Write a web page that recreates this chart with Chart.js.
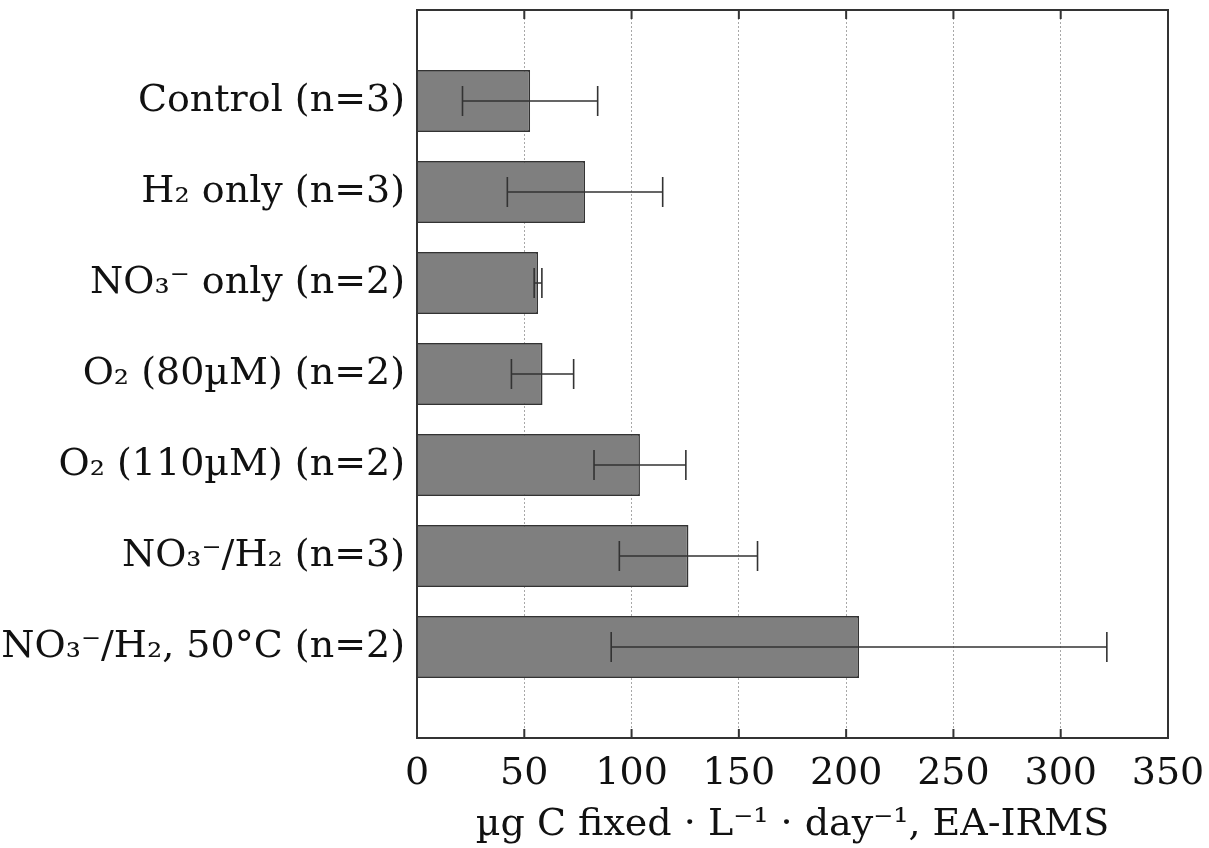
<!DOCTYPE html>
<html>
<head>
<meta charset="utf-8">
<script src="https://cdn.jsdelivr.net/npm/chart.js@4"></script>
<style>
html,body{margin:0;padding:0;background:#fff;}
#wrap{width:1209px;height:848px;}
</style>
</head>
<body>
<div id="wrap"><canvas id="c" width="1209" height="848"></canvas></div>
<script>
const categories = [
  'Control (n=3)',
  'H\u2082 only (n=3)',
  'NO\u2083\u207B only (n=2)',
  'O\u2082 (80\u00B5M) (n=2)',
  'O\u2082 (110\u00B5M) (n=2)',
  'NO\u2083\u207B/H\u2082 (n=3)',
  'NO\u2083\u207B/H\u2082, 50\u00B0C (n=2)'
];
const means  = [52.7, 78.3, 56.4, 58.5, 103.9, 126.5, 206];
const errors = [31.5, 36.2, 1.8, 14.5, 21.4, 32.2, 115.5];
const xTicks = [0, 50, 100, 150, 200, 250, 300, 350];
const xTitle = '\u00B5g C fixed \u00B7 L\u207B\u00B9 \u00B7 day\u207B\u00B9, EA-IRMS';

const FONT = "'DejaVu Serif', serif";
const labels = [''].concat(categories, ['']);
const data = [null].concat(means, [null]);

const frame = {
  id: 'frame',
  afterDatasetsDraw(chart) {
    const ctx = chart.ctx, a = chart.chartArea;
    const xs = chart.scales.x, ys = chart.scales.y;
    ctx.save();
    ctx.strokeStyle = '#333';
    ctx.lineWidth = 1.6;
    means.forEach((m, i) => {
      const y = ys.getPixelForValue(i + 1);
      const x1 = xs.getPixelForValue(m - errors[i]);
      const x2 = xs.getPixelForValue(m + errors[i]);
      ctx.beginPath();
      ctx.moveTo(x1, y); ctx.lineTo(x2, y);
      ctx.moveTo(x1, y - 15); ctx.lineTo(x1, y + 15);
      ctx.moveTo(x2, y - 15); ctx.lineTo(x2, y + 15);
      ctx.stroke();
    });
    ctx.lineWidth = 2;
    xTicks.forEach(v => {
      const x = xs.getPixelForValue(v);
      ctx.beginPath();
      ctx.moveTo(x, a.top); ctx.lineTo(x, a.top + 9);
      ctx.moveTo(x, a.bottom); ctx.lineTo(x, a.bottom - 9);
      ctx.stroke();
    });
    ctx.strokeRect(a.left, a.top, a.right - a.left, a.bottom - a.top);
    ctx.restore();
  }
};

new Chart(document.getElementById('c'), {
  type: 'bar',
  data: {
    labels: labels,
    datasets: [{
      data: data,
      backgroundColor: '#7f7f7f',
      borderColor: '#333',
      borderWidth: 1.6,
      categoryPercentage: 1,
      barPercentage: 0.68
    }]
  },
  options: {
    indexAxis: 'y',
    responsive: false,
    animation: false,
    layout: { padding: { top: 10, right: 41, bottom: 0, left: 0 } },
    plugins: { legend: { display: false }, tooltip: { enabled: false } },
    scales: {
      x: {
        type: 'linear',
        min: 0, max: 350,
        afterBuildTicks(s) { s.ticks = xTicks.map(v => ({ value: v })); },
        afterFit(s) { s.height = 110; s.paddingLeft = 0; s.paddingRight = 0; },
        grid: { color: '#a8a8a8', lineWidth: 1, drawTicks: false },
        border: { display: false, dash: [2, 2] },
        ticks: { color: '#111', font: { family: FONT, size: 38 }, padding: 13, maxRotation: 0 },
        title: { display: true, text: xTitle, color: '#111', font: { family: FONT, size: 38 }, padding: { top: 0, bottom: 0 } }
      },
      y: {
        type: 'category',
        offset: false,
        afterFit(s) { s.width = 417; s.paddingTop = 0; s.paddingBottom = 0; },
        grid: { display: false, drawTicks: false },
        border: { display: false },
        ticks: { color: '#111', font: { family: FONT, size: 38 }, padding: 12, autoSkip: false }
      }
    }
  },
  plugins: [frame]
});
</script>
</body>
</html>
